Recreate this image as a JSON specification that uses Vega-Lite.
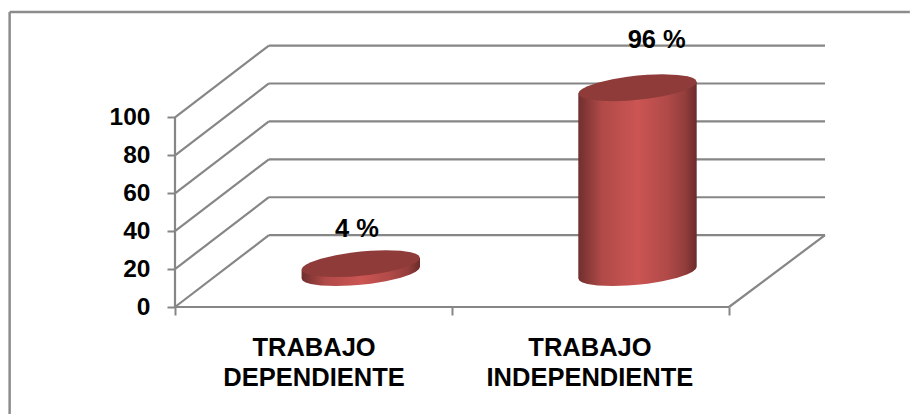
{
"$schema":"https://vega.github.io/schema/vega-lite/v6.json",
"width":650,"height":262,
"autosize":{"type":"none"},
"padding":{"left":175,"top":45,"right":85,"bottom":107},
"background":"#ffffff",
"view":{"stroke":null},
"datasets":{
"lines":[
{"x":-59.7,"y":155.6,"x2":265.3,"y2":155.6},
{"x":-59.7,"y":155.6,"x2":-59.7,"y2":-56.4}
],
"grid":[
{"x":0,"y":0,"x2":33.9,"y2":37.9},{"x":33.9,"y":37.9,"x2":234.66,"y2":37.9},
{"x":0,"y":20,"x2":33.9,"y2":57.9},{"x":33.9,"y":57.9,"x2":234.66,"y2":57.9},
{"x":0,"y":40,"x2":33.9,"y2":77.9},{"x":33.9,"y":77.9,"x2":234.66,"y2":77.9},
{"x":0,"y":60,"x2":33.9,"y2":97.9},{"x":33.9,"y":97.9,"x2":234.66,"y2":97.9},
{"x":0,"y":80,"x2":33.9,"y2":117.9},{"x":33.9,"y":117.9,"x2":234.66,"y2":117.9},
{"x":0,"y":100,"x2":33.9,"y2":137.9},{"x":33.9,"y":137.9,"x2":234.66,"y2":137.9},
{"x":0,"y":0,"x2":0,"y2":100},
{"x":0,"y":0,"x2":200,"y2":0},
{"x":200,"y":0,"x2":234.66,"y2":37.9}
],
"cyl":[
{"cat":"TRABAJO DEPENDIENTE","x":45.7,"bt":19.77,"bb":15.03,"ct":19.77,"cb":19.77},
{"cat":"TRABAJO DEPENDIENTE","x":46.13,"bt":19.83,"bb":13.82,"ct":21.12,"cb":18.56},
{"cat":"TRABAJO DEPENDIENTE","x":47.21,"bt":19.99,"bb":12.89,"ct":22.35,"cb":17.63},
{"cat":"TRABAJO DEPENDIENTE","x":49.02,"bt":20.25,"bb":12.1,"ct":23.66,"cb":16.84},
{"cat":"TRABAJO DEPENDIENTE","x":52.63,"bt":20.76,"bb":11.32,"ct":25.47,"cb":16.06},
{"cat":"TRABAJO DEPENDIENTE","x":58.04,"bt":21.54,"bb":11.02,"ct":27.32,"cb":15.76},
{"cat":"TRABAJO DEPENDIENTE","x":63.46,"bt":22.31,"bb":11.28,"ct":28.61,"cb":16.02},
{"cat":"TRABAJO DEPENDIENTE","x":67.07,"bt":22.83,"bb":11.71,"ct":29.22,"cb":16.45},
{"cat":"TRABAJO DEPENDIENTE","x":70.68,"bt":23.35,"bb":12.32,"ct":29.64,"cb":17.06},
{"cat":"TRABAJO DEPENDIENTE","x":76.09,"bt":24.12,"bb":13.61,"ct":29.91,"cb":18.35},
{"cat":"TRABAJO DEPENDIENTE","x":81.51,"bt":24.9,"bb":15.46,"ct":29.61,"cb":20.2},
{"cat":"TRABAJO DEPENDIENTE","x":85.12,"bt":25.42,"bb":17.27,"ct":28.83,"cb":22.01},
{"cat":"TRABAJO DEPENDIENTE","x":86.92,"bt":25.67,"bb":18.63,"ct":28.04,"cb":23.37},
{"cat":"TRABAJO DEPENDIENTE","x":88.01,"bt":25.83,"bb":19.87,"ct":27.11,"cb":24.61},
{"cat":"TRABAJO DEPENDIENTE","x":88.44,"bt":25.89,"bb":21.15,"ct":25.89,"cb":25.89},
{"cat":"TRABAJO INDEPENDIENTE","x":145.6,"bt":112.6,"bb":15.03,"ct":112.6,"cb":112.6},
{"cat":"TRABAJO INDEPENDIENTE","x":146.03,"bt":112.66,"bb":13.82,"ct":113.95,"cb":111.39},
{"cat":"TRABAJO INDEPENDIENTE","x":147.11,"bt":112.82,"bb":12.89,"ct":115.18,"cb":110.46},
{"cat":"TRABAJO INDEPENDIENTE","x":148.92,"bt":113.08,"bb":12.1,"ct":116.49,"cb":109.67},
{"cat":"TRABAJO INDEPENDIENTE","x":152.53,"bt":113.59,"bb":11.32,"ct":118.3,"cb":108.89},
{"cat":"TRABAJO INDEPENDIENTE","x":157.94,"bt":114.37,"bb":11.02,"ct":120.15,"cb":108.59},
{"cat":"TRABAJO INDEPENDIENTE","x":163.36,"bt":115.14,"bb":11.28,"ct":121.44,"cb":108.85},
{"cat":"TRABAJO INDEPENDIENTE","x":166.97,"bt":115.66,"bb":11.71,"ct":122.05,"cb":109.28},
{"cat":"TRABAJO INDEPENDIENTE","x":170.58,"bt":116.18,"bb":12.32,"ct":122.47,"cb":109.89},
{"cat":"TRABAJO INDEPENDIENTE","x":175.99,"bt":116.95,"bb":13.61,"ct":122.74,"cb":111.18},
{"cat":"TRABAJO INDEPENDIENTE","x":181.41,"bt":117.73,"bb":15.46,"ct":122.44,"cb":113.03},
{"cat":"TRABAJO INDEPENDIENTE","x":185.02,"bt":118.25,"bb":17.27,"ct":121.66,"cb":114.84},
{"cat":"TRABAJO INDEPENDIENTE","x":186.82,"bt":118.5,"bb":18.63,"ct":120.87,"cb":116.2},
{"cat":"TRABAJO INDEPENDIENTE","x":187.91,"bt":118.66,"bb":19.87,"ct":119.94,"cb":117.44},
{"cat":"TRABAJO INDEPENDIENTE","x":188.34,"bt":118.72,"bb":21.15,"ct":118.72,"cb":118.72}
],
"values":[
{"x":65.7,"y":36.9,"label":"4 %"},
{"x":173.9,"y":136.4,"label":"96 %"}
],
"cats":[
{"x":50.2,"y":-25.7,"label":"TRABAJO\nDEPENDIENTE"},
{"x":149.8,"y":-25.7,"label":"TRABAJO\nINDEPENDIENTE"}
]
},
"encoding":{
"x":{"type":"quantitative","scale":{"domain":[0,234.66],"nice":false,"zero":false}},
"y":{"type":"quantitative","scale":{"domain":[0,138.2],"nice":false,"zero":false}}
},
"layer":[
{"data":{"name":"lines"},"mark":{"type":"rule","color":"#8c8c8c","strokeWidth":2.5,"clip":false},
"encoding":{
"x":{"field":"x","type":"quantitative","title":null,"axis":{"values":[0,100,200],"labels":false,"domain":false,"grid":false,"ticks":true,"tickSize":8,"tickWidth":2,"tickColor":"#868686","title":null}},
"y":{"field":"y","type":"quantitative","title":null,"axis":{"values":[0,20,40,60,80,100],"domain":false,"grid":false,"ticks":true,"tickSize":8,"tickWidth":2,"tickColor":"#868686","labelFont":"Liberation Sans","labelFontWeight":"bold","labelFontSize":24.5,"labelColor":"#000000","labelPadding":17,"title":null}},
"x2":{"field":"x2"},"y2":{"field":"y2"}}},
{"data":{"name":"grid"},"mark":{"type":"rule","color":"#868686","strokeWidth":2.2},
"encoding":{"x":{"field":"x","type":"quantitative"},"y":{"field":"y","type":"quantitative"},"x2":{"field":"x2"},"y2":{"field":"y2"}}},
{"data":{"name":"cyl"},"mark":{"type":"area","orient":"vertical","color":{"gradient":"linear","x1":0,"x2":1,"y1":0,"y2":0,"stops":[{"offset":0,"color":"#6f2f2e"},{"offset":0.2,"color":"#b04a48"},{"offset":0.5,"color":"#cb5553"},{"offset":0.75,"color":"#b04a48"},{"offset":0.9,"color":"#933e3c"},{"offset":1,"color":"#6b2b2a"}]}},
"encoding":{"x":{"field":"x","type":"quantitative"},"y":{"field":"bt","type":"quantitative","stack":null},"y2":{"field":"bb"},"detail":{"field":"cat"}}},
{"data":{"name":"cyl"},"mark":{"type":"area","orient":"vertical","color":"#8f3b39"},
"encoding":{"x":{"field":"x","type":"quantitative"},"y":{"field":"ct","type":"quantitative","stack":null},"y2":{"field":"cb"},"detail":{"field":"cat"}}},
{"data":{"name":"values"},"mark":{"type":"text","font":"Liberation Sans","fontWeight":"bold","fontSize":25.5,"color":"#000000","align":"center","baseline":"alphabetic"},
"encoding":{"x":{"field":"x","type":"quantitative"},"y":{"field":"y","type":"quantitative"},"text":{"field":"label"}}},
{"data":{"name":"cats"},"mark":{"type":"text","font":"Liberation Sans","fontWeight":"bold","fontSize":25.5,"color":"#000000","align":"center","baseline":"alphabetic","lineBreak":"\n","lineHeight":30},
"encoding":{"x":{"field":"x","type":"quantitative"},"y":{"field":"y","type":"quantitative"},"text":{"field":"label"}}}
]
}
